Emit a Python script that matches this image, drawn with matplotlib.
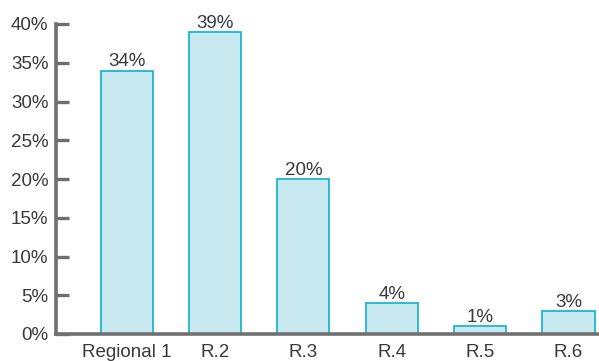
import matplotlib
matplotlib.use("Agg")
import matplotlib.pyplot as plt
import numpy as np

plt.rcParams['font.family'] = ['Liberation Sans', 'DejaVu Sans']

categories = ["Regional 1", "R.2", "R.3", "R.4", "R.5", "R.6"]
shares = [34, 39, 20, 4, 1, 3]
yticks = [0, 5, 10, 15, 20, 25, 30, 35, 40]

W, H = 599, 361
fig = plt.figure(figsize=(W / 100, H / 100), dpi=100)
ax = fig.add_axes([56 / W, 27 / H, (W - 56) / W, (334 - 24) / H])

x = np.arange(len(categories))
ax.bar(x, shares, width=0.59, color="#c8e8ef", edgecolor="#1cb8cf", linewidth=1.3)

for xi, v in zip(x, shares):
    ax.text(xi, v, f"{v}%", ha="center", va="bottom", fontsize=13.5, color="#3a3a3a")

ax.set_xlim(-0.80, 5.345)
ax.set_ylim(0, 40)
ax.set_xticks(x)
ax.set_xticklabels(categories)
ax.set_yticks(yticks)
ax.set_yticklabels([f"{t}%" for t in yticks])

for s in ("top", "right"):
    ax.spines[s].set_visible(False)
for s in ("left", "bottom"):
    ax.spines[s].set_color("#707070")
    ax.spines[s].set_linewidth(2.6)

ax.tick_params(axis="y", direction="in", length=9, width=2.4, color="#707070",
               labelsize=13.5, labelcolor="#3a3a3a", pad=5.5)
ax.tick_params(axis="x", length=0, labelsize=13.5, labelcolor="#3a3a3a", pad=7)

fig.savefig("out.png", dpi=100)
